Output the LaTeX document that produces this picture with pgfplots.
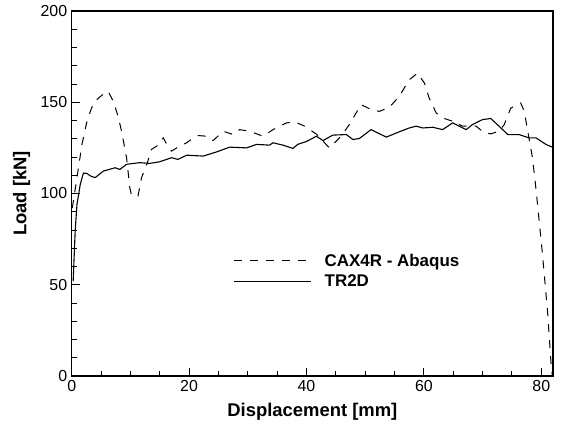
\documentclass[border=0pt]{standalone}
\usepackage{fontspec}
\setmainfont{Liberation Sans}
\usepackage{pgfplots}
\pgfplotsset{compat=1.18}
\begin{document}
\begin{tikzpicture}
\begin{axis}[
  name=ax,
  scale only axis,
  width=481.3bp, height=365bp,
  xmin=0, xmax=82, ymin=0, ymax=200,
  xtick={0,20,...,80}, ytick={0,50,...,200},
  minor x tick num=3, minor y tick num=4,
  tick pos=left, tick align=inside,
  major tick length=8bp, minor tick length=5bp,
  every tick/.style={black, line width=1bp},
  axis line style={line width=1.4bp},
  /pgf/number format/assume math mode=true,
  tick label style={font=\fontsize{16}{19}\selectfont},
  xticklabel style={yshift=-1bp},
  yticklabel style={xshift=-1bp},
  xlabel={\textbf{Displacement [mm]}},
  ylabel={\textbf{Load [kN]}},
  label style={font=\fontsize{18.5}{22}\selectfont},
  xlabel style={at={(axis description cs:0.5,0)}, anchor=base, yshift=-40.5bp},
  ylabel style={at={(axis description cs:0,0.5)}, anchor=center, yshift=50bp},
  legend style={draw=none, fill=none, at={(0.336,0.288)}, anchor=west,
    font=\fontsize{17}{20}\selectfont\bfseries, inner sep=0pt, row sep=3bp,
    nodes={inner sep=2bp}},
  legend cell align=left,
  legend image code/.code={\draw[#1] (0bp,0bp) -- (77bp,0bp);},
  /tikz/every odd column/.append style={column sep=11bp},
]
\addplot[black, line width=1bp, dash pattern=on 8bp off 8bp] coordinates {
(0.1,92) (0.9,108.7) (1.75,126.9) (2.6,139.6) (3.4,147) (4.25,151.4) (5.2,154)
(6.2,156) (7.1,150.5) (7.9,142.3) (8.5,134.1) (9.35,119.6) (9.9,103.2)
(10.2,98.7) (11.3,98.7) (11.9,108.7) (12.8,116) (13.6,124.2) (14.5,126)
(15.6,130.5) (16.2,126.9) (17,123.2) (17.9,125) (19.6,127.8) (21.3,131.8)
(23,131.4) (24.1,129) (25.8,134.1) (27.5,132.3) (28.6,135) (30.3,134.1)
(32.6,131.4) (34.3,135) (36.6,138.7) (38,139.2) (39.7,136.9) (41.7,132.5)
(43.9,125) (44.5,126.9) (45.9,131.4) (47.3,137.8) (49.3,148.7) (51,146)
(52.4,145) (54.1,147.2) (55.8,153.2) (57.5,162.3) (58.9,165.9) (60.1,160.5)
(60.9,152.3) (62.1,144.1) (63.2,141.4) (64.9,139.6) (66.6,136.9) (68.9,136.9)
(70.3,133.2) (71.4,132.7) (72.8,134.1) (73.7,137.8) (74.8,146.8) (76.5,149.6)
(77.1,145) (77.7,134.1) (78.5,119.6) (79.1,102.5) (80.2,66.9) (81.1,34.2)
(81.7,5.1) (81.9,0)
};
\addlegendentry{CAX4R - Abaqus}
\addplot[black, line width=1.1bp] coordinates {
(0.25,52) (0.6,80) (0.9,94) (1.46,105) (2.0,111.2) (2.6,111) (3.2,109.6) (4.0,108.7)
(5.4,112.3) (7.4,114.1) (8.2,113.2) (9.35,116) (11.6,116.9) (13.3,116.5)
(15,117.4) (17,119.6) (18.1,118.7) (19.6,121) (22.4,120.5) (24.7,122.8)
(26.9,125.4) (29.8,125) (31.5,126.9) (33.7,126.5) (34.3,127.8) (36,126.5)
(37.7,124.7) (38.5,126.9) (40,128.5) (41.7,131.4) (42.8,129) (44.5,132)
(46.8,132.3) (47.9,129.6) (49,130.1) (51,135) (53.6,130.9) (55.8,133.8)
(57.5,135.9) (58.7,136.9) (59.8,135.9) (61.5,136.3) (63.2,135) (64.9,138.7)
(66,136.9) (67.2,135) (68.3,137.8) (70,140.5) (71.4,141.1) (72.8,136.9)
(74.3,132.3) (76.2,132.3) (77.9,130.5) (79.1,130.5) (80.8,126.9) (81.9,125.4)
};
\addlegendentry{TR2D}
\end{axis}
\pgfresetboundingbox
\path[use as bounding box] ([shift={(-71.7bp,-48bp)}]ax.south west) rectangle ([shift={(8bp,11bp)}]ax.north east);
\end{tikzpicture}
\end{document}
